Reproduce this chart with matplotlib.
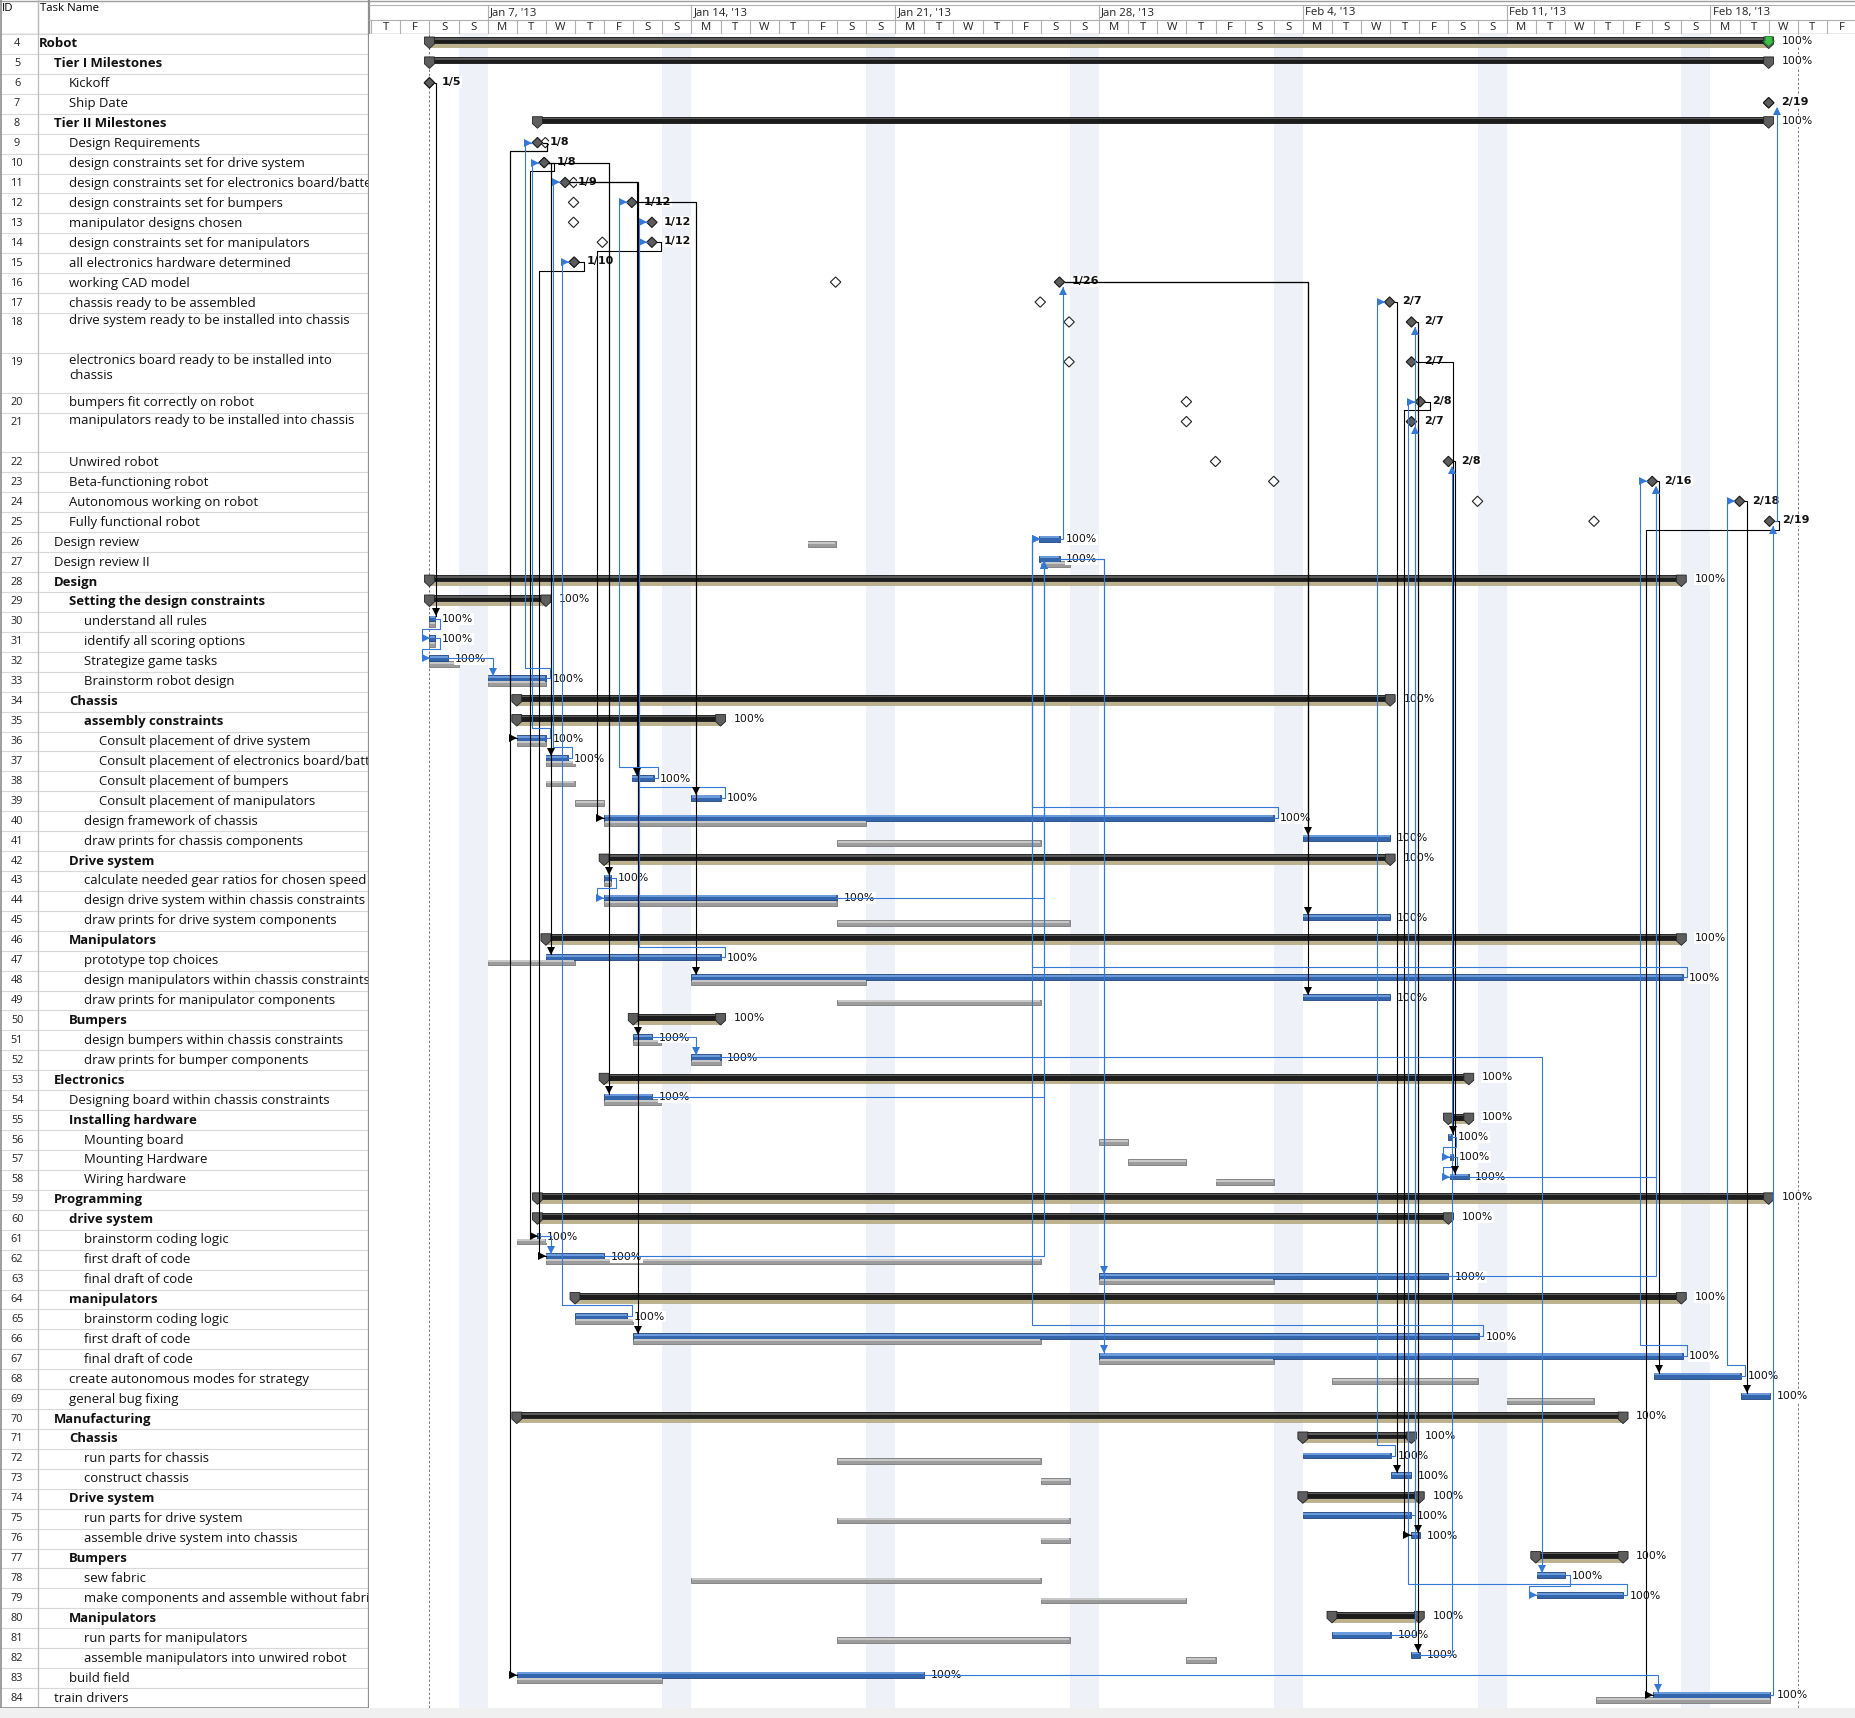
import datetime as dt
import numpy as np
import matplotlib
matplotlib.use("Agg")
import matplotlib.pyplot as plt
from matplotlib.patches import Rectangle, Polygon

# ---------------- data ----------------
base_date = dt.date(2013, 1, 3)          # day 0 of the timescale

ids = list(range(4, 85))
names = [
    "Robot", "Tier I Milestones", "Kickoff", "Ship Date", "Tier II Milestones",
    "Design Requirements", "design constraints set for drive system",
    "design constraints set for electronics board/battery",
    "design constraints set for bumpers", "manipulator designs chosen",
    "design constraints set for manipulators", "all electronics hardware determined",
    "working CAD model", "chassis ready to be assembled",
    "drive system ready to be installed into chassis",
    "electronics board ready to be installed into\nchassis",
    "bumpers fit correctly on robot", "manipulators ready to be installed into chassis",
    "Unwired robot", "Beta-functioning robot", "Autonomous working on robot",
    "Fully functional robot", "Design review", "Design review II", "Design",
    "Setting the design constraints", "understand all rules",
    "identify all scoring options", "Strategize game tasks", "Brainstorm robot design",
    "Chassis", "assembly constraints", "Consult placement of drive system",
    "Consult placement of electronics board/battery", "Consult placement of bumpers",
    "Consult placement of manipulators", "design framework of chassis",
    "draw prints for chassis components", "Drive system",
    "calculate needed gear ratios for chosen speed",
    "design drive system within chassis constraints",
    "draw prints for drive system components", "Manipulators", "prototype top choices",
    "design manipulators within chassis constraints",
    "draw prints for manipulator components", "Bumpers",
    "design bumpers within chassis constraints", "draw prints for bumper components",
    "Electronics", "Designing board within chassis constraints", "Installing hardware",
    "Mounting board", "Mounting Hardware", "Wiring hardware", "Programming",
    "drive system", "brainstorm coding logic", "first draft of code", "final draft of code",
    "manipulators", "brainstorm coding logic", "first draft of code", "final draft of code",
    "create autonomous modes for strategy", "general bug fixing", "Manufacturing",
    "Chassis", "run parts for chassis", "construct chassis", "Drive system",
    "run parts for drive system", "assemble drive system into chassis", "Bumpers",
    "sew fabric", "make components and assemble without fabric", "Manipulators",
    "run parts for manipulators", "assemble manipulators into unwired robot",
    "build field", "train drivers",
]
levels = [0, 1, 2, 2, 1] + [2] * 17 + [1, 1, 1, 2, 3, 3, 3, 3, 2, 3, 4, 4, 4, 4, 3, 3,
          2, 3, 3, 3, 2, 3, 3, 3, 2, 3, 3, 1, 2, 2, 3, 3, 3, 1, 2, 3, 3, 3, 2, 3, 3, 3,
          2, 2, 1, 2, 3, 3, 2, 3, 3, 2, 3, 3, 2, 3, 3, 2, 1]
kinds = ("SSMMS" + "M" * 17 + "TTSSTTTTSSTTTTTTSTTTSTTTSTTSTSTTTSSTTTSTTTTTSSTTSTTSTTSTTTT")
starts = [2.0, 2.0, 2.0, 48.0, 5.71, 5.71, 5.94, 6.66, 8.95, 9.64, 9.64, 6.97, 23.64,
          34.98, 35.73, 35.73, 36.03, 35.73, 37.0, 44.0, 47.0, 48.03,
          22.95, 22.95, 2.0, 2.0, 2.0, 2.0, 2.0, 4.0, 5.0, 5.0, 5.0, 6.0, 8.95, 11.0,
          8.0, 32.0, 8.0, 8.0, 8.0, 32.0, 6.0, 6.0, 11.0, 32.0, 9.0, 9.0, 11.0,
          8.0, 8.0, 37.0, 37.0, 37.05, 37.05, 5.71, 5.71, 5.71, 6.0, 25.0,
          7.0, 7.0, 9.0, 25.0, 44.05, 47.05, 5.0, 32.0, 32.0, 35.03, 32.0, 32.0, 35.72,
          40.0, 40.03, 40.03, 33.0, 33.0, 35.72, 5.0, 44.03]
finishes = [48.0, 48.0, 2.0, 48.0, 48.0, 5.71, 5.94, 6.66, 8.95, 9.64, 9.64, 6.97, 23.64,
            34.98, 35.73, 35.73, 36.03, 35.73, 37.0, 44.0, 47.0, 48.03,
            23.65, 23.65, 45.0, 6.0, 2.2, 2.2, 2.65, 6.0, 35.0, 12.0, 6.0, 6.75, 9.7, 12.0,
            31.0, 35.0, 35.0, 8.25, 16.0, 35.0, 45.0, 12.0, 45.05, 35.0, 12.0, 9.65, 12.0,
            37.7, 9.65, 37.7, 37.1, 37.15, 37.7, 48.0, 37.0, 5.8, 8.0, 37.0,
            45.0, 8.8, 38.05, 45.05, 47.05, 48.05, 43.0, 35.73, 35.03, 35.72, 36.0, 35.7, 36.02,
            43.0, 41.02, 43.0, 36.0, 35.03, 36.02, 19.0, 48.05]
# baseline (gray bars / hollow diamonds / tan summary lines); None = not shown
base_starts = [2.0, None, 2.0, 48.0, None, 5.98, 5.94, 6.95, 6.95, 6.95, 7.94, 6.97, 15.95,
               22.98, 23.97, 23.97, 28.0, 28.0, 29.0, 31.0, 38.0, 42.0,
               15.0, 23.0, 2.0, 2.0, 2.0, 2.0, 2.0, 4.0, 5.0, 5.0, 5.0, 6.0, 6.0, 7.0,
               8.0, 16.0, 8.0, 8.0, 8.0, 16.0, 6.0, 4.0, 11.0, 16.0, 9.0, 9.0, 11.0,
               8.0, 8.0, 37.0, 25.0, 26.0, 29.0, 5.71, 5.71, 5.0, 6.0, 25.0,
               7.0, 7.0, 9.0, 25.0, 33.0, 39.0, 5.0, 32.0, 16.0, 23.0, 32.0, 16.0, 23.0,
               40.0, 11.0, 23.0, 33.0, 16.0, 28.0, 5.0, 42.07]
base_finishes = [48.0, None, 2.0, 48.0, None, 5.98, 5.94, 6.95, 6.95, 6.95, 7.94, 6.97, 15.95,
                 22.98, 23.97, 23.97, 28.0, 28.0, 29.0, 31.0, 38.0, 42.0,
                 15.95, 24.0, 45.0, 6.0, 2.2, 2.2, 3.0, 6.0, 35.0, 12.0, 6.0, 7.0, 7.0, 8.0,
                 17.0, 23.0, 35.0, 8.25, 16.0, 24.0, 45.0, 7.0, 17.0, 23.0, 12.0, 9.95, 12.0,
                 37.7, 9.95, 37.7, 26.0, 28.0, 31.0, 48.0, 37.0, 6.0, 23.0, 31.0,
                 45.0, 9.0, 23.0, 31.0, 38.0, 42.0, 43.0, 35.73, 23.0, 24.0, 36.0, 24.0, 24.0,
                 43.0, 23.0, 28.0, 36.0, 24.0, 29.0, 10.0, 48.05]
milestone_dates = {6: "1/5", 7: "2/19", 9: "1/8", 10: "1/8", 11: "1/9", 12: "1/12",
                   13: "1/12", 14: "1/12", 15: "1/10", 16: "1/26", 17: "2/7", 18: "2/7",
                   19: "2/7", 20: "2/8", 21: "2/7", 22: "2/8", 23: "2/16", 24: "2/18",
                   25: "2/19"}
pct_complete = "100%"
double_rows = [18, 19, 21]
deadline_day = 48.0
dashed_days = [2.0, 49.0]

links = [  # (predecessor, successor, colour code)
    (6, 30, "k"), (9, 36, "k"), (9, 83, "k"), (10, 37, "k"), (10, 43, "k"), (10, 54, "k"),
    (10, 47, "k"), (10, 61, "k"), (11, 38, "k"), (11, 51, "k"), (11, 66, "k"), (12, 39, "k"),
    (12, 48, "k"), (14, 40, "k"), (15, 62, "k"), (16, 41, "k"), (16, 45, "k"), (16, 49, "k"),
    (17, 73, "k"), (18, 76, "k"), (18, 82, "k"), (19, 56, "k"), (20, 76, "k"), (22, 58, "k"),
    (23, 68, "k"), (24, 69, "k"), (25, 84, "k"),
    (30, 31, "b"), (31, 32, "b"), (32, 33, "b"), (33, 9, "b"), (36, 10, "b"), (37, 11, "b"),
    (38, 12, "b"), (47, 13, "b"), (39, 14, "b"), (65, 15, "b"), (43, 44, "b"), (51, 52, "b"),
    (61, 62, "b"), (56, 57, "b"), (57, 58, "b"), (78, 79, "b"), (83, 84, "b"), (52, 78, "b"),
    (26, 16, "b"), (40, 26, "b"), (48, 26, "b"), (66, 26, "b"), (44, 27, "b"), (54, 27, "b"),
    (62, 27, "b"), (27, 63, "b"), (27, 67, "b"), (72, 17, "b"), (75, 18, "b"), (81, 21, "b"),
    (82, 22, "b"), (79, 20, "b"), (58, 23, "b"), (63, 23, "b"), (67, 23, "b"), (68, 24, "b"),
    (84, 25, "b"), (25, 7, "b"),
]

# ---------------- layout ----------------
W, H = 1856, 1718
fig = plt.figure(figsize=(W / 100, H / 100), dpi=100, facecolor="white")


def px_axes(x0, y0, x1, y1):
    ax = fig.add_axes([x0 / W, 1 - y1 / H, (x1 - x0) / W, (y1 - y0) / H])
    ax.set_axis_off()
    return ax


ROW_TOP, ROW_BOT = 34, 1708
X_ID, X_NAME, X_CHART = 38, 369, 369
heights = np.array([2 if i in double_rows else 1 for i in ids])
tops = np.concatenate([[0], np.cumsum(heights)[:-1]])
NU = heights.sum()
idx = {r: k for k, r in enumerate(ids)}

XL0, XL1 = -0.076, 51.0
FONT = "Open Sans"
NAME_FS = 9.45

# bottom strip
fig.patches.append(Rectangle((0, 0), 1, (H - ROW_BOT) / H, transform=fig.transFigure,
                             facecolor="#F0F0F0", edgecolor="none", zorder=0))

# ---------------- table ----------------
ax_id = px_axes(0, ROW_TOP, X_ID, ROW_BOT)
ax_nm = px_axes(X_ID, ROW_TOP, X_NAME, ROW_BOT)
for axt in (ax_id, ax_nm):
    axt.set_xlim(0, 1)
    axt.set_ylim(NU, 0)
    axt.add_patch(Rectangle((0, 0), 1, NU, facecolor="white", edgecolor="none", zorder=0))
    for k in range(len(ids) + 1):
        yb = tops[k] if k < len(ids) else NU
        axt.axhline(yb, color="#D8D8D8", lw=0.8, zorder=1)
nm_w = X_NAME - X_ID
for k, r in enumerate(ids):
    yc = tops[k] + 0.5
    ax_id.text(0.45, yc, str(r), ha="center", va="center", fontsize=7.8,
               family=FONT, color="#222222")
    bold = kinds[k] == "S"
    xt = (1 + 15 * levels[k]) / nm_w
    if heights[k] == 2:
        ax_nm.text(xt, tops[k] + 0.07, names[k], ha="left", va="top", fontsize=NAME_FS,
                   family=FONT, fontweight="bold" if bold else "normal", color="#111111",
                   clip_on=True, linespacing=1.2)
    else:
        ax_nm.text(xt, yc, names[k], ha="left", va="center", fontsize=NAME_FS,
                   family=FONT, fontweight="bold" if bold else "normal", color="#111111",
                   clip_on=True)

# table header
ax_th = px_axes(0, 0, X_NAME, ROW_TOP)
ax_th.set_xlim(0, X_NAME)
ax_th.set_ylim(ROW_TOP, 0)
ax_th.text(2, 8.5, "ID", ha="left", va="center", fontsize=8.2, family=FONT)
ax_th.text(X_ID + 2, 8.5, "Task Name", ha="left", va="center", fontsize=8.2, family=FONT)
ax_th.plot([X_ID, X_ID], [0, ROW_TOP], color="#BDBDBD", lw=0.9)
ax_th.plot([0, X_NAME], [0.6, 0.6], color="#9E9E9E", lw=1.0)
ax_th.plot([0, X_NAME], [ROW_TOP - 0.5, ROW_TOP - 0.5], color="#9E9E9E", lw=1.0)

# column separators over full height
sep = px_axes(0, 0, W, ROW_BOT)
sep.set_xlim(0, W)
sep.set_ylim(ROW_BOT, 0)
sep.plot([X_ID, X_ID], [0, ROW_BOT], color="#BDBDBD", lw=0.9)
sep.plot([X_NAME, X_NAME], [0, ROW_BOT], color="#8E8E8E", lw=1.6)
sep.plot([0.6, 0.6], [0, ROW_BOT], color="#8E8E8E", lw=1.2)
sep.plot([0, W], [ROW_BOT - 0.5, ROW_BOT - 0.5], color="#8E8E8E", lw=1.2)
sep.patch.set_alpha(0)

# ---------------- timescale header ----------------
ax_h = px_axes(X_CHART, 0, W, ROW_TOP)
ax_h.set_xlim(XL0, XL1)
ax_h.set_ylim(ROW_TOP, 0)
ax_h.plot([XL0, XL1], [0.6, 0.6], color="#9E9E9E", lw=1.0)
ax_h.plot([XL0, XL1], [5, 5], color="#B0B0B0", lw=0.8)
ax_h.plot([XL0, XL1], [20, 20], color="#B0B0B0", lw=0.8)
ax_h.plot([XL0, XL1], [ROW_TOP - 0.5, ROW_TOP - 0.5], color="#9E9E9E", lw=1.0)
day_letters = "MTWTFSS"
for d in range(0, 52):
    date = base_date + dt.timedelta(days=d)
    ax_h.plot([d, d], [20, ROW_TOP], color="#B0B0B0", lw=0.8)
    if d + 0.5 < XL1:
        ax_h.text(d + 0.5, 27.3, day_letters[date.weekday()], ha="center", va="center",
                  fontsize=8.2, family=FONT, color="#222222")
    if date.weekday() == 0:
        ax_h.plot([d, d], [5, 20], color="#B0B0B0", lw=0.8)
        ax_h.text(d + 0.08, 12.6, date.strftime("%b ") + str(date.day) + date.strftime(", '%y"),
                  ha="left", va="center", fontsize=8.2, family=FONT, color="#222222")

# ---------------- gantt ----------------
ax = px_axes(X_CHART, ROW_TOP, W, ROW_BOT)
ax.set_xlim(XL0, XL1)
ax.set_ylim(NU, 0)
ax.add_patch(Rectangle((XL0, 0), XL1 - XL0, NU, facecolor="white", edgecolor="none", zorder=0))
for d in range(0, 52):
    if (base_date + dt.timedelta(days=d)).weekday() == 6:
        ax.add_patch(Rectangle((d, 0), 1, NU, facecolor="#EEF2F8", edgecolor="none", zorder=0.5))
for xd in dashed_days:
    ax.plot([xd, xd], [0, NU], color="#7A7A7A", lw=0.7, ls=(0, (2.5, 2)), zorder=1)

TY, TH = 0.33, 0.30      # task bar centre/height (row units)
BY, BH = 0.60, 0.28      # baseline bar
SY, SH = 0.32, 0.30      # summary bar
MY, MW, MH = 0.45, 0.18, 0.26   # milestone centre, half width (days), half height


def task_bar(x0, x1, yc, h, face, light, edge):
    w = max(x1 - x0, 0.06)
    ax.add_patch(Rectangle((x0, yc - h / 2), w, h, facecolor=face, edgecolor=edge,
                           lw=0.6, zorder=2))
    ax.add_patch(Rectangle((x0 + 0.02, yc - h / 2 + 0.03), max(w - 0.04, 0.02), h * 0.35,
                           facecolor=light, edgecolor="none", zorder=2.1))


def diamond(x, yc, face, edge, z):
    ax.add_patch(Polygon([(x - MW, yc), (x, yc - MH), (x + MW, yc), (x, yc + MH)],
                         closed=True, facecolor=face, edgecolor=edge, lw=0.8, zorder=z))


def cap(x, ytop):
    cw = 0.17
    ax.add_patch(Polygon([(x - cw, ytop - 0.02), (x + cw, ytop - 0.02), (x + cw, ytop + 0.33),
                          (x, ytop + 0.56), (x - cw, ytop + 0.33)], closed=True,
                         facecolor="#5E5E5E", edgecolor="#222222", lw=0.6, zorder=2.6))


LBL_FS = 7.8
label_box = dict(facecolor="white", edgecolor="none", pad=0.6)
for k, r in enumerate(ids):
    t = tops[k]
    kd = kinds[k]
    if kd == "M":
        if base_starts[k] is not None:
            diamond(base_starts[k], t + MY, "white", "#222222", 2.0)
        diamond(starts[k], t + MY, "#5C5C5C", "#1A1A1A", 2.2)
        ax.text(starts[k] + 0.42, t + MY - 0.04, milestone_dates[r], ha="left", va="center",
                fontsize=8.0, fontweight="bold", family="DejaVu Sans", color="#111111",
                bbox=label_box, zorder=3)
    elif kd == "T":
        if base_starts[k] is not None:
            task_bar(base_starts[k], base_finishes[k], t + BY, BH, "#9C9C9C", "#C8C8C8", "#7A7A7A")
        task_bar(starts[k], finishes[k], t + TY, TH, "#3466AE", "#6C9BDC", "#22467E")
        ax.text(finishes[k] + 0.22, t + 0.36, pct_complete, ha="left", va="center",
                fontsize=LBL_FS, family="DejaVu Sans", color="#111111", bbox=label_box, zorder=3)
    else:
        ytop = t + SY - SH / 2
        if base_starts[k] is not None:
            ax.add_patch(Rectangle((base_starts[k], t + 0.50), base_finishes[k] - base_starts[k],
                                   0.16, facecolor="#BDB28C", edgecolor="#A39870", lw=0.4,
                                   zorder=2))
        ax.add_patch(Rectangle((starts[k], ytop), finishes[k] - starts[k], SH,
                               facecolor="#1C1C1C", edgecolor="#000000", lw=0.5, zorder=2.3))
        ax.add_patch(Rectangle((starts[k], ytop + 0.05), finishes[k] - starts[k], SH * 0.2,
                               facecolor="#5A5A5A", edgecolor="none", zorder=2.4))
        cap(starts[k], ytop)
        cap(finishes[k], ytop)
        ax.text(finishes[k] + 0.45, t + 0.36, pct_complete, ha="left", va="center",
                fontsize=LBL_FS, family="DejaVu Sans", color="#111111", bbox=label_box, zorder=3)

# deadline marker on the Robot row
t4 = tops[idx[4]]
ax.add_patch(Polygon([(deadline_day - 0.12, t4 + 0.12), (deadline_day + 0.12, t4 + 0.12),
                      (deadline_day + 0.12, t4 + 0.35), (deadline_day + 0.2, t4 + 0.35),
                      (deadline_day, t4 + 0.62), (deadline_day - 0.2, t4 + 0.35),
                      (deadline_day - 0.12, t4 + 0.35)], closed=True,
                     facecolor="#3CC24A", edgecolor="#1F7A2A", lw=0.5, zorder=2.8))


# ---------------- links ----------------
def endpoints(r):
    k = idx[r]
    t = tops[k]
    if kinds[k] == "M":
        x = starts[k]
        yc = t + MY
        return dict(fd=x, sd=x, xe=x + MW, xs=x - MW, y=yc, te=yc - MH, be=yc + MH,
                    m=True, top=t)
    yc = t + TY
    return dict(fd=finishes[k], sd=starts[k], xe=finishes[k], xs=starts[k], y=yc,
                te=yc - TH / 2, be=yc + TH / 2, m=False, top=t)


colors = {"k": "#000000", "b": "#3479D8"}
for a, b, c in links:
    p, s = endpoints(a), endpoints(b)
    col = colors[c]
    down = s["y"] > p["y"]
    if s["sd"] >= p["fd"] - 0.03:
        xv = s["sd"] + (0.12 if s["m"] else 0.17)
        xv = max(xv, p["xe"] + 0.06)
        yend = s["te"] if down else s["be"]
        ax.plot([p["xe"], xv, xv], [p["y"], p["y"], yend], color=col, lw=0.8, zorder=4,
                solid_joinstyle="miter")
        ax.plot([xv], [yend - 0.17 if down else yend + 0.17], marker="v" if down else "^",
                color=col, markersize=5.2, zorder=4.1, markeredgewidth=0)
    else:
        x1 = p["xe"] + 0.15
        ymid = p["top"] + 0.87 if down else p["top"] - 0.2
        x2 = s["xs"] - 0.25
        ax.plot([p["xe"], x1, x1, x2, x2, s["xs"]],
                [p["y"], p["y"], ymid, ymid, s["y"], s["y"]], color=col, lw=0.8, zorder=4)
        ax.plot([s["xs"] - 0.13], [s["y"]], marker=">", color=col, markersize=5.2,
                zorder=4.1, markeredgewidth=0)

fig.savefig("out.png", dpi=100, facecolor=fig.get_facecolor())
